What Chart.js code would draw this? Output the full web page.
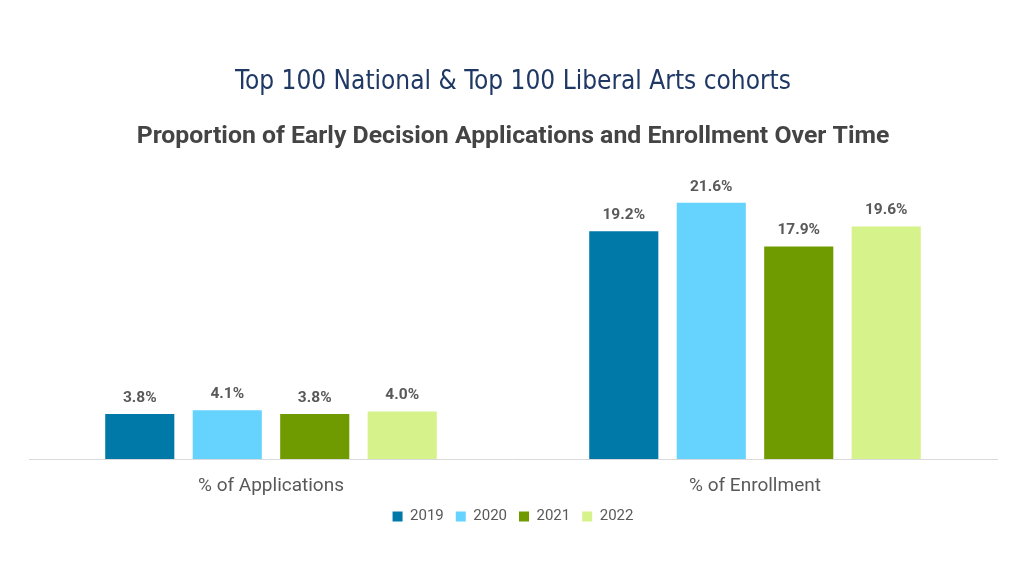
<!DOCTYPE html>
<html>
<head>
<meta charset="utf-8">
<script src="https://cdn.jsdelivr.net/npm/chart.js@4"></script>
<style>
  html, body { margin: 0; padding: 0; background: #ffffff; }
  #wrap { width: 1024px; height: 576px; }
</style>
</head>
<body>
<div id="wrap"><canvas id="chart" width="1024" height="576"></canvas></div>
<script>
const categories = ['% of Applications', '% of Enrollment'];
const years = ['2019', '2020', '2021', '2022'];
const values2019 = [3.8, 19.2];
const values2020 = [4.1, 21.6];
const values2021 = [3.8, 17.9];
const values2022 = [4.0, 19.6];
const yearColors = ['#0078a8', '#66d3ff', '#6f9a00', '#d6f28a'];

const labelColor = '#595959';

// draws the value above each bar
const barLabels = {
    id: 'barLabels',
    afterDatasetsDraw(chart) {
        const ctx = chart.ctx;
        ctx.save();
        ctx.font = 'bold 15.5px Roboto';
        ctx.fillStyle = labelColor;
        ctx.textAlign = 'center';
        ctx.textBaseline = 'middle';
        chart.data.datasets.forEach((ds, i) => {
            chart.getDatasetMeta(i).data.forEach((bar, j) => {
                ctx.fillText(ds.data[j].toFixed(1) + '%', bar.x, bar.y - 16);
            });
        });
        ctx.restore();
    }
};

new Chart(document.getElementById('chart'), {
    type: 'bar',
    data: {
        labels: categories,
        datasets: [
            {label: years[0], data: values2019, backgroundColor: yearColors[0]},
            {label: years[1], data: values2020, backgroundColor: yearColors[1]},
            {label: years[2], data: values2021, backgroundColor: yearColors[2]},
            {label: years[3], data: values2022, backgroundColor: yearColors[3]}
        ]
    },
    options: {
        responsive: false,
        animation: false,
        devicePixelRatio: 1,
        categoryPercentage: 0.723,
        barPercentage: 0.79,
        layout: {padding: {left: 29, right: 27, top: 0, bottom: 42}},
        scales: {
            x: {
                grid: {display: false, drawTicks: false},
                border: {display: true, color: '#d9d9d9', width: 1},
                ticks: {color: labelColor, font: {family: 'Roboto', size: 19}, padding: 15.6},
                afterFit(scale) { scale.height = 38; }
            },
            y: {display: false, min: 0, max: 24}
        },
        plugins: {
            title: {
                display: true,
                text: 'Top 100 National & Top 100 Liberal Arts cohorts',
                color: '#1f3864',
                font: {family: "'Liberation Sans Narrow', 'DejaVu Sans Condensed', Roboto", size: 26, weight: 'normal'},
                padding: {top: 67, bottom: 0}
            },
            subtitle: {
                display: true,
                text: 'Proportion of Early Decision Applications and Enrollment Over Time',
                color: '#444444',
                font: {family: 'Roboto', size: 24.8, weight: 'bold'},
                padding: {top: 23.6, bottom: 22.6}
            },
            legend: {
                position: 'bottom',
                labels: {
                    color: labelColor,
                    font: {family: 'Roboto', size: 15},
                    boxWidth: 10,
                    boxHeight: 10,
                    padding: 12
                }
            },
            tooltip: {enabled: false}
        }
    },
    plugins: [barLabels]
});
</script>
</body>
</html>
